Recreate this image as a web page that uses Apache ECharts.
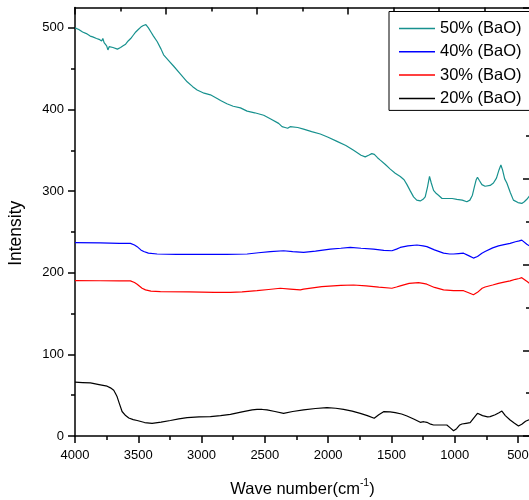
<!DOCTYPE html>
<html>
<head>
<meta charset="utf-8">
<script src="https://cdn.jsdelivr.net/npm/echarts@6/dist/echarts.min.js"></script>
<style>
  html, body { margin: 0; padding: 0; background: #fff; }
  #chart { width: 529px; height: 500px; }
</style>
</head>
<body>
<div id="chart"></div>
<script>
// FTIR spectra of glasses with different BaO content (wavenumber in cm-1, intensity in a.u.)
const seriesNames = ['50% (BaO)', '40% (BaO)', '30% (BaO)', '20% (BaO)'];
const seriesColors = ['#17918e', '#0000ff', '#ff0000', '#000000'];

const wn50 = [4000, 3970, 3940, 3910, 3880, 3860, 3830, 3810, 3790, 3780, 3770, 3750, 3740, 3730, 3715, 3700, 3685, 3665, 3640, 3620, 3600, 3580, 3560, 3540, 3520, 3500, 3480, 3460, 3450, 3440, 3420, 3400, 3380, 3350, 3320, 3300, 3260, 3220, 3170, 3114, 3070, 3035, 2980, 2930, 2870, 2850, 2800, 2750, 2693, 2640, 2580, 2509, 2450, 2391, 2364, 2340, 2320, 2300, 2285, 2240, 2194, 2130, 2062, 2000, 1930, 1860, 1799, 1740, 1707, 1680, 1655, 1635, 1610, 1588, 1550, 1509, 1470, 1430, 1400, 1377, 1350, 1325, 1300, 1272, 1250, 1233, 1215, 1199, 1185, 1167, 1145, 1128, 1100, 1088, 1070, 1057, 1020, 983, 940, 904, 880, 860, 845, 830, 820, 805, 785, 760, 746, 720, 694, 670, 650, 635, 622, 605, 588, 560, 536, 500, 470, 450, 430, 410];
const int50 = [500, 498, 495, 493, 490, 489, 487, 486, 484, 487, 482, 478, 473, 477, 475, 476, 474, 474, 476, 478, 480, 484, 487, 491, 495, 498, 501, 503, 505, 504, 500, 495, 490, 483, 474, 467, 460, 453, 444, 434, 428, 424, 420, 418, 413, 411, 407, 404, 402, 398, 396, 393, 388, 383, 379, 378, 377, 379, 380, 378, 376, 373, 370, 366, 361, 356, 350, 344, 342, 344, 346, 345, 341, 338, 333, 327, 322, 318, 314, 308, 300, 293, 289, 288, 290, 293, 305, 318, 310, 301, 297, 295, 291, 290, 291, 292, 291, 290, 289, 287, 289, 295, 305, 314, 317, 313, 308, 306, 305, 307, 310, 316, 326, 332, 326, 315, 310, 298, 289, 286, 285, 287, 290, 294];

const wn40 = [4000, 3800, 3650, 3562, 3530, 3509, 3480, 3457, 3420, 3351, 3200, 2983, 2800, 2640, 2550, 2457, 2352, 2280, 2194, 2100, 1983, 1900, 1825, 1740, 1641, 1560, 1496, 1460, 1430, 1370, 1298, 1250, 1220, 1160, 1088, 1040, 1009, 970, 930, 890, 852, 820, 785, 760, 746, 700, 654, 610, 562, 520, 490, 470, 455, 430, 410];
const int40 = [237, 236.5, 236, 236, 234, 232, 228, 226, 224, 223, 222.5, 222.5, 222.5, 223, 224.5, 226, 227, 226, 225, 226.5, 229, 230, 231, 230, 229, 227.5, 227, 229, 231, 233, 234, 233, 232, 228, 224, 223, 223, 223.5, 224, 221, 218, 220, 224, 226, 228, 230.5, 233, 234.5, 236, 238, 239, 240, 238, 235, 233];

const wn30 = [4000, 3800, 3650, 3562, 3530, 3509, 3470, 3443, 3400, 3325, 3100, 2900, 2772, 2680, 2562, 2470, 2378, 2300, 2220, 2194, 2050, 1900, 1799, 1700, 1600, 1496, 1460, 1430, 1360, 1286, 1250, 1220, 1160, 1088, 1009, 930, 890, 852, 820, 783, 760, 700, 654, 610, 562, 520, 490, 470, 455, 425, 410];
const int30 = [190.4, 190.2, 190, 190, 188, 186, 181, 179, 177.5, 177, 176.5, 176, 176, 176.5, 178, 179.5, 181, 180, 179, 180, 183, 184.5, 185, 184, 182.5, 181, 182.5, 184, 187, 188, 187, 186, 182, 179, 178, 178, 175.5, 173, 176, 181, 182.5, 185, 187, 188.5, 190, 192, 193, 194, 192, 189, 187];

const wn20 = [4000, 3940, 3878, 3810, 3746, 3720, 3694, 3680, 3667, 3650, 3628, 3600, 3575, 3540, 3509, 3450, 3391, 3320, 3246, 3180, 3114, 3020, 2930, 2850, 2772, 2680, 2600, 2562, 2520, 2483, 2420, 2352, 2280, 2194, 2100, 2009, 1940, 1878, 1810, 1746, 1690, 1636, 1600, 1562, 1510, 1470, 1420, 1377, 1320, 1272, 1245, 1220, 1190, 1167, 1100, 1062, 1035, 1009, 985, 960, 943, 910, 878, 850, 820, 780, 740, 720, 680, 650, 627, 600, 562, 530, 496, 470, 440, 417, 405];
const int20 = [66, 65.5, 65, 63, 61, 59, 56, 52, 48, 40, 30, 25, 22, 20, 19, 16.5, 15.5, 17, 19, 21, 22.5, 23.5, 23.8, 25, 26.5, 29.5, 32, 32.7, 32.5, 32, 30, 27.8, 30, 32, 33.7, 34.7, 34, 32.7, 30.5, 27.8, 25, 21.7, 26, 29.8, 29.5, 28.6, 27, 24.5, 20.5, 16.8, 17.5, 16.8, 14.5, 13.5, 13.5, 13.5, 10, 6.5, 9, 13.5, 14.7, 15.5, 16.3, 22, 27.8, 25, 23.5, 23.7, 26, 28.5, 30.6, 25, 19.6, 16, 12.3, 14.5, 18, 19.6, 20];

// Tick positions
const xMajorTicks = [500, 1000, 1500, 2000, 2500, 3000, 3500, 4000];
const xMinorTicks = [750, 1250, 1750, 2250, 2750, 3250, 3750];
const yMajorTicks = [0, 100, 200, 300, 400, 500];
const yMinorTicks = [50, 150, 250, 350, 450];

const wnSets = [wn50, wn40, wn30, wn20];
const intSets = [int50, int40, int30, int20];

const FONT = 'Liberation Sans, Arial, sans-serif';
const AXIS_COLOR = '#000';

const chart = echarts.init(document.getElementById('chart'), null, { renderer: 'canvas' });

const lineStyle = { color: AXIS_COLOR, width: 1.5 };
const plainNumber = function (v) { return String(v); };

function baseX(extra) {
  return Object.assign({
    type: 'value',
    gridIndex: 0,
    inverse: true,
    min: 405,
    max: 4000,
    splitLine: { show: false },
    axisLine: { show: false, onZero: false, lineStyle: lineStyle }
  }, extra);
}
function baseY(extra) {
  return Object.assign({
    type: 'value',
    gridIndex: 0,
    min: 0,
    max: 525,
    splitLine: { show: false },
    axisLine: { show: false, onZero: false, lineStyle: lineStyle }
  }, extra);
}

const option = {
  backgroundColor: '#fff',
  animation: false,
  grid: {
    left: 75,
    top: 7.5,
    width: 455,
    height: 428.5,
    outerBoundsMode: 'none'
  },
  legend: {
    orient: 'vertical',
    left: 389,
    top: 11.5,
    padding: [7, 12, 2, 10],
    itemGap: 3.3,
    itemWidth: 36,
    itemHeight: 1.5,
    icon: 'rect',
    borderColor: '#000',
    borderWidth: 1,
    backgroundColor: '#fff',
    textStyle: { fontFamily: FONT, fontSize: 16.5, color: '#000', lineHeight: 20 },
    data: seriesNames
  },
  xAxis: [
    baseX({
      position: 'bottom',
      axisLine: { show: true, onZero: false, lineStyle: lineStyle },
      axisTick: { show: true, length: 7, lineStyle: lineStyle, customValues: xMajorTicks },
      axisLabel: {
        show: true, margin: 13, customValues: xMajorTicks, formatter: plainNumber,
        fontFamily: FONT, fontSize: 13, color: '#000'
      },
      name: 'Wave number(cm{sup|-1})',
      nameLocation: 'middle',
      nameGap: 42,
      nameTextStyle: {
        fontFamily: FONT, fontSize: 16.5, color: '#000', lineHeight: 22,
        rich: { sup: { fontFamily: FONT, fontSize: 10.5, color: '#000', verticalAlign: 'top', lineHeight: 10 } }
      }
    }),
    baseX({
      position: 'bottom',
      axisTick: { show: true, length: 4, lineStyle: lineStyle, customValues: xMinorTicks },
      axisLabel: { show: false }
    }),
    {
      type: 'value', gridIndex: 0, position: 'top', min: 0, max: 5, interval: 1,
      splitLine: { show: false },
      axisLine: { show: true, onZero: false, lineStyle: lineStyle },
      axisTick: { show: true, inside: true, length: 7, lineStyle: lineStyle },
      minorTick: { show: true, splitNumber: 2, length: 4, lineStyle: lineStyle },
      axisLabel: { show: false }
    }
  ],
  yAxis: [
    baseY({
      position: 'left',
      axisLine: { show: true, onZero: false, lineStyle: lineStyle },
      axisTick: { show: true, length: 7, lineStyle: lineStyle, customValues: yMajorTicks },
      axisLabel: {
        show: true, margin: 11, customValues: yMajorTicks, formatter: plainNumber,
        fontFamily: FONT, fontSize: 13, color: '#000'
      },
      name: 'Intensity',
      nameLocation: 'middle',
      nameGap: 50,
      nameRotate: 90,
      nameTextStyle: { fontFamily: FONT, fontSize: 17.5, color: '#000', padding: [0, 23, 0, 0] }
    }),
    baseY({
      position: 'left',
      axisTick: { show: true, length: 4, lineStyle: lineStyle, customValues: yMinorTicks },
      axisLabel: { show: false }
    }),
    {
      type: 'value', gridIndex: 0, position: 'right', min: 0, max: 5, interval: 1,
      splitLine: { show: false },
      axisLine: { show: true, onZero: false, lineStyle: lineStyle },
      axisTick: { show: true, inside: true, length: 7, lineStyle: lineStyle },
      minorTick: { show: true, splitNumber: 2, length: 4, lineStyle: lineStyle },
      axisLabel: { show: false }
    }
  ],
  series: seriesNames.map(function (name, i) {
    return {
      name: name,
      type: 'line',
      xAxisIndex: 0,
      yAxisIndex: 0,
      symbol: 'none',
      smooth: false,
      z: 4 - i,
      lineStyle: { color: seriesColors[i], width: 1.2 },
      itemStyle: { color: seriesColors[i] },
      data: wnSets[i].map(function (w, k) { return [w, intSets[i][k]]; })
    };
  })
};

chart.setOption(option);
</script>
</body>
</html>
